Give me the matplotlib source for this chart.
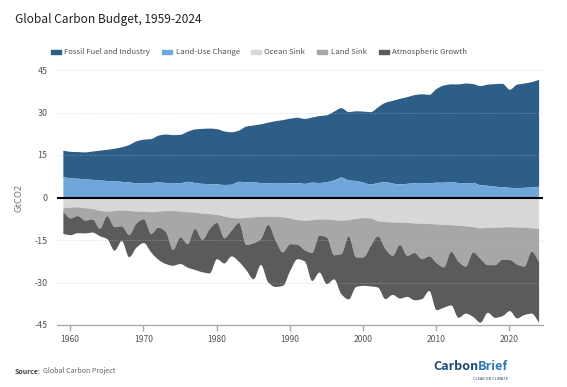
import numpy as np
import matplotlib
matplotlib.use("Agg")
import matplotlib.pyplot as plt
from matplotlib.patches import Rectangle

# Global Carbon Budget, GtCO2 per year
years = list(range(1959, 2025))

fossil = [9.3, 9.4, 9.4, 9.5, 10.0, 10.5, 11.0, 11.5, 12.2, 13.2,
          14.8, 15.5, 15.5, 16.5, 17.1, 17.1, 17.1, 17.7, 18.9, 19.4,
          19.6, 19.5, 18.9, 18.5, 18.1, 19.6, 20.1, 20.7, 21.4, 22.0,
          22.4, 22.8, 23.1, 22.9, 23.0, 23.6, 23.6, 24.3, 24.5, 24.1,
          24.6, 25.1, 25.5, 26.7, 28.0, 29.2, 30.2, 30.6, 31.1, 31.3,
          31.2, 33.1, 34.3, 34.5, 34.8, 35.2, 34.9, 35.0, 35.7, 36.2,
          36.5, 34.6, 36.5, 36.8, 37.2, 37.7]

land_use = [7.4, 6.9, 6.8, 6.6, 6.4, 6.2, 6.0, 5.9, 5.7, 5.5,
            5.2, 5.1, 5.3, 5.5, 5.3, 5.1, 5.2, 5.7, 5.3, 5.0,
            4.9, 4.8, 4.6, 4.7, 5.7, 5.6, 5.5, 5.3, 5.2, 5.1,
            5.1, 5.2, 5.2, 5.0, 5.4, 5.3, 5.6, 6.2, 7.2, 6.2,
            6.0, 5.4, 4.8, 5.3, 5.6, 5.1, 4.8, 5.0, 5.2, 5.3,
            5.2, 5.4, 5.4, 5.6, 5.3, 5.2, 5.3, 4.5, 4.3, 4.0,
            3.8, 3.6, 3.5, 3.6, 3.7, 4.0]

ocean_sink = [3.6, 3.4, 3.3, 3.6, 3.9, 4.5, 4.8, 4.6, 4.4, 4.6,
              4.8, 4.9, 5.0, 4.8, 4.6, 4.6, 4.8, 5.0, 5.2, 5.5,
              5.7, 6.0, 6.5, 7.0, 7.2, 7.0, 6.8, 6.7, 6.6, 6.6,
              6.8, 7.2, 7.8, 8.0, 7.8, 7.6, 7.6, 7.8, 8.0, 7.8,
              7.4, 7.1, 7.2, 8.2, 8.5, 8.6, 8.7, 8.8, 9.0, 9.1,
              9.2, 9.3, 9.5, 9.6, 9.8, 10.0, 10.3, 10.7, 10.5, 10.5,
              10.4, 10.3, 10.4, 10.5, 10.7, 10.9]

land_sink = [1.4, 3.8, 3.1, 4.4, 3.7, 6.4, 1.6, 5.7, 5.6, 8.5,
             4.2, 2.6, 7.7, 5.7, 7.4, 13.7, 9.1, 11.3, 5.7, 9.3,
             5.3, 2.8, 7.7, 4.5, 1.6, 9.6, 9.2, 7.8, 2.9, 8.4,
             12.4, 9.1, 8.7, 10.5, 11.6, 5.7, 6.3, 12.4, 11.8, 5.7,
             13.6, 13.9, 9.8, 5.3, 9.5, 11.8, 7.9, 11.6, 10.4, 12.5,
             11.4, 13.7, 15.0, 9.4, 12.7, 14.2, 8.9, 10.8, 13.2, 13.2,
             11.4, 11.6, 13.1, 13.7, 8.3, 11.6]

atmos_growth = [7.7, 5.9, 6.0, 4.5, 4.6, 2.6, 8.1, 8.3, 5.2, 7.8,
                8.5, 8.4, 6.5, 11.3, 11.3, 5.6, 9.4, 8.3, 14.5, 11.4,
                15.6, 12.8, 8.9, 9.1, 13.7, 8.9, 12.7, 9.1, 20.3, 16.4,
                11.8, 9.4, 5.1, 3.9, 9.9, 13.0, 16.5, 8.5, 14.2, 22.3,
                10.4, 10.0, 14.2, 18.1, 17.7, 13.8, 18.9, 14.5, 16.7, 14.1,
                12.2, 16.6, 14.2, 18.9, 19.8, 16.6, 22.8, 22.5, 16.8, 18.6,
                19.9, 18.0, 19.0, 17.1, 21.8, 21.5]

labels = ["Fossil Fuel and Industry", "Land-Use Change", "Ocean Sink",
          "Land Sink", "Atmospheric Growth"]
colors = ["#2d5e88", "#6fa7da", "#d8d8d8", "#a7a7a7", "#5b5b5b"]

yticks = [-45, -30, -15, 0, 15, 30, 45]
xticks = [1960, 1970, 1980, 1990, 2000, 2010, 2020]

plt.rcParams["font.family"] = ["Noto Sans CJK SC", "DejaVu Sans"]


def smooth(x, y, n=12):
    # monotone cubic curve through the yearly points (drawing only)
    x = np.asarray(x, float)
    y = np.asarray(y, float)
    h = np.diff(x)
    d = np.diff(y) / h
    m = np.zeros_like(y)
    m[0], m[-1] = d[0], d[-1]
    for i in range(1, len(y) - 1):
        if d[i - 1] * d[i] > 0:
            m[i] = 2 * d[i - 1] * d[i] / (d[i - 1] + d[i])
    xs, ys = [], []
    for i in range(len(h)):
        t = np.linspace(0, 1, n, endpoint=False)
        h00 = 2 * t**3 - 3 * t**2 + 1
        h10 = t**3 - 2 * t**2 + t
        h01 = -2 * t**3 + 3 * t**2
        h11 = t**3 - t**2
        xs.append(x[i] + t * h[i])
        ys.append(h00 * y[i] + h10 * h[i] * m[i] + h01 * y[i + 1] + h11 * h[i] * m[i + 1])
    xs.append([x[-1]])
    ys.append([y[-1]])
    return np.concatenate(xs), np.concatenate(ys)


W, H = 567, 387
fig = plt.figure(figsize=(W / 100, H / 100), dpi=100)
ax = fig.add_axes([57 / W, 1 - 325 / H, 486 / W, 255 / H])

yr = np.array(years, float)
luc = np.array(land_use)
top = luc + np.array(fossil)
b1 = -np.array(ocean_sink)
b2 = b1 - np.array(land_sink)
b3 = b2 - np.array(atmos_growth)

xs, s_luc = smooth(yr, luc)
_, s_top = smooth(yr, top)
_, s_b1 = smooth(yr, b1)
_, s_b2 = smooth(yr, b2)
_, s_b3 = smooth(yr, b3)
zero = np.zeros_like(xs)

ax.fill_between(xs, s_luc, s_top, color=colors[0], lw=0, zorder=2)
ax.fill_between(xs, zero, s_luc, color=colors[1], lw=0, zorder=2)
ax.fill_between(xs, zero, s_b1, color=colors[2], lw=0, zorder=2)
ax.fill_between(xs, s_b1, s_b2, color=colors[3], lw=0, zorder=2)
ax.fill_between(xs, s_b2, s_b3, color=colors[4], lw=0, zorder=2)

ax.set_xlim(1958.2, 2024.6)
ax.set_ylim(-45, 45)

for v in [-30, -15, 15, 30]:
    ax.axhline(v, color="#bbbbbb", lw=0.6, ls=(0, (1, 2)), alpha=0.7, zorder=3)
ax.axhline(45, color="#ececec", lw=1.2, zorder=1)
ax.axhline(0, color="black", lw=1.5, zorder=4)

for s in ["top", "right", "left"]:
    ax.spines[s].set_visible(False)
ax.spines["bottom"].set_color("#aaaaaa")
ax.spines["bottom"].set_linewidth(1.0)

ax.set_xticks(xticks)
ax.set_yticks(yticks)
ax.set_yticklabels([str(v) for v in yticks])
ax.tick_params(axis="x", colors="#aaaaaa", length=4, width=1, labelcolor="#555555",
               labelsize=6.2, pad=3)
ax.tick_params(axis="y", length=0, labelcolor="#555555", labelsize=6.4, pad=7)
ax.set_ylabel("GtCO2", color="#777777", fontsize=6.8, labelpad=8)

fig.text(15 / W, 1 - 19 / H, "Global Carbon Budget, 1959-2024", fontsize=8.6,
         color="#222222", fontweight="medium", va="center", ha="left")

# legend row
items = [(51, 64), (162, 176), (251, 264), (317, 331), (379, 392)]
for (px, tx), lab, col in zip(items, labels, colors):
    fig.patches.append(Rectangle((px / W, 1 - 54 / H), 10 / W, 3.5 / H,
                                 transform=fig.transFigure, color=col))
    fig.text(tx / W, 1 - 52.5 / H, lab, fontsize=5.6, color="#505050",
             va="center", ha="left")

renderer = fig.canvas.get_renderer()
src = fig.text(15 / W, 1 - 371 / H, "Source:", fontsize=5.1, color="#444444",
               fontweight="bold", va="center", ha="left")
bb = src.get_window_extent(renderer)
fig.text((bb.x1 + 2) / W, 1 - 371 / H, "Global Carbon Project", fontsize=5.1,
         color="#666666", va="center", ha="left")

# CarbonBrief wordmark
cb = fig.text(433 / W, 1 - 367 / H, "Carbon", fontsize=9.1, fontweight="bold",
              color="#1c4a75", va="center", ha="left")
bb = cb.get_window_extent(renderer)
fig.text(bb.x1 / W, 1 - 367 / H, "Brief", fontsize=9.1, fontweight="bold",
         color="#2f78b8", va="center", ha="left")
fig.text(508 / W, 1 - 379 / H, "CLEAR ON CLIMATE", fontsize=2.8,
         color="#1c4a75", va="center", ha="right")

fig.savefig("out.png", dpi=100)
